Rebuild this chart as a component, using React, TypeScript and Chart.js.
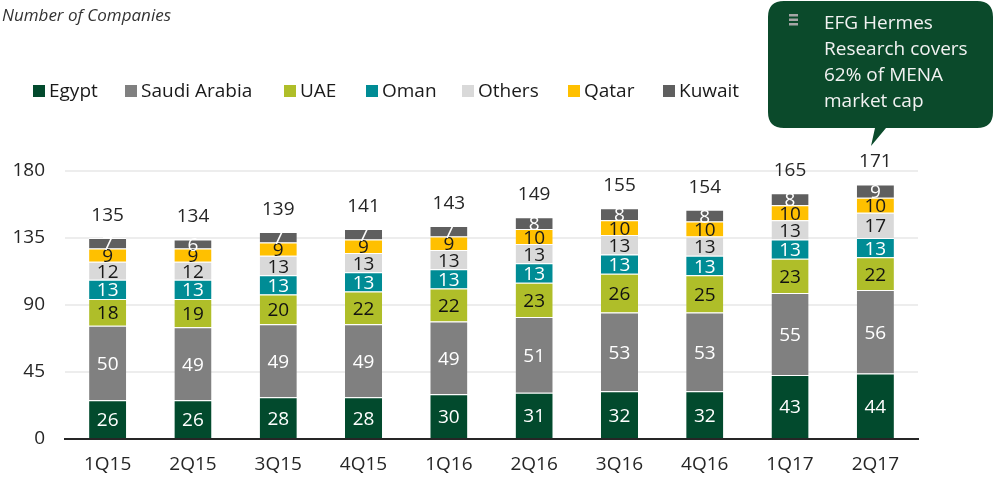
import { useEffect, useRef } from "react";
import { Chart, registerables } from "chart.js";
Chart.register(...registerables);

const categories = ["1Q15", "2Q15", "3Q15", "4Q15", "1Q16", "2Q16", "3Q16", "4Q16", "1Q17", "2Q17"];
const egypt = [26, 26, 28, 28, 30, 31, 32, 32, 43, 44];
const saudiArabia = [50, 49, 49, 49, 49, 51, 53, 53, 55, 56];
const uae = [18, 19, 20, 22, 22, 23, 26, 25, 23, 22];
const oman = [13, 13, 13, 13, 13, 13, 13, 13, 13, 13];
const others = [12, 12, 13, 13, 13, 13, 13, 13, 13, 17];
const qatar = [9, 9, 9, 9, 9, 10, 10, 10, 10, 10];
const kuwait = [7, 6, 7, 7, 7, 8, 8, 8, 8, 9];

const seriesNames = ["Egypt", "Saudi Arabia", "UAE", "Oman", "Others", "Qatar", "Kuwait"];
const seriesData = [egypt, saudiArabia, uae, oman, others, qatar, kuwait];
const seriesColors = ["#024a2d", "#808080", "#afbe29", "#008c95", "#d9d9d9", "#ffc000", "#5f5f5f"];
const labelColors = ["#ffffff", "#ffffff", "#111111", "#ffffff", "#1a1a1a", "#1a1a1a", "#ffffff"];
const legendX = [33, 125, 284, 366, 462, 568, 663];

const FONT = '"Open Sans", sans-serif';

const labelsPlugin = {
  id: "segLabels",
  afterDatasetsDraw(chart: any) {
    const ctx = chart.ctx;
    ctx.save();
    ctx.font = `19px ${FONT}`;
    ctx.textAlign = "center";
    ctx.textBaseline = "alphabetic";
    const n = chart.data.datasets.length;
    chart.data.datasets.forEach((ds: any, i: number) => {
      const meta = chart.getDatasetMeta(i);
      meta.data.forEach((bar: any, j: number) => {
        const p = bar.getProps(["x", "y", "base"], true);
        ctx.fillStyle = labelColors[i];
        ctx.fillText(String(ds.data[j]), p.x, (p.y + p.base) / 2 + 7);
      });
    });
    const lastMeta = chart.getDatasetMeta(n - 1);
    ctx.fillStyle = "#262626";
    lastMeta.data.forEach((bar: any, j: number) => {
      let total = 0;
      chart.data.datasets.forEach((ds: any) => (total += ds.data[j]));
      const p = bar.getProps(["x", "y"], true);
      ctx.fillText(String(total), p.x, p.y - 17);
    });
    ctx.restore();
  },
};

const legendPlugin = {
  id: "customLegend",
  afterDraw(chart: any) {
    const ctx = chart.ctx;
    ctx.save();
    ctx.font = `19px ${FONT}`;
    ctx.textAlign = "left";
    ctx.textBaseline = "alphabetic";
    chart.data.datasets.forEach((ds: any, i: number) => {
      const x = legendX[i];
      ctx.fillStyle = ds.backgroundColor;
      ctx.fillRect(x, 85, 12, 12);
      ctx.fillStyle = "#1a1a1a";
      ctx.fillText(ds.label, x + 16, 97);
    });
    ctx.restore();
  },
};

export default function App() {
  const ref = useRef<HTMLCanvasElement>(null);
  useEffect(() => {
    Chart.defaults.font.family = FONT;
    const chart = new Chart(ref.current!, {
      type: "bar",
      data: {
        labels: categories,
        datasets: seriesNames.map((name, i) => ({
          label: name,
          data: seriesData[i],
          backgroundColor: seriesColors[i],
          borderColor: "rgba(255,255,255,0.85)",
          borderWidth: { top: 1, left: 0, right: 0, bottom: 0 },
          borderSkipped: false,
          categoryPercentage: 1,
          barPercentage: 0.435,
        })),
      },
      options: {
        responsive: false,
        animation: false,
        layout: { padding: { top: 171, right: 77, left: 0, bottom: 0 } },
        plugins: {
          legend: { display: false },
          title: { display: false },
          tooltip: { enabled: false },
        },
        scales: {
          x: {
            stacked: true,
            grid: { display: false, drawTicks: false },
            border: { display: true, color: "#262626", width: 2 },
            ticks: { color: "#262626", font: { size: 19 }, padding: 14 },
            afterFit(s: any) {
              s.height = 41;
            },
          },
          y: {
            stacked: true,
            min: 0,
            max: 180,
            ticks: { stepSize: 45, color: "#262626", font: { size: 19 }, padding: 20 },
            grid: { color: "#ededed", lineWidth: 2, drawTicks: false },
            border: { display: false },
            afterFit(s: any) {
              s.width = 65;
            },
          },
        },
      } as any,
      plugins: [labelsPlugin, legendPlugin],
    });
    return () => chart.destroy();
  }, []);

  return (
    <div
      style={{
        position: "fixed",
        left: 0,
        top: 0,
        width: 995,
        height: 480,
        background: "#fff",
        fontFamily: FONT,
        overflow: "hidden",
      }}
    >
      <canvas
        ref={ref}
        width={995}
        height={480}
        style={{ position: "absolute", left: 0, top: 0, width: 995, height: 480 }}
      />
      <div
        style={{
          position: "absolute",
          left: 2,
          top: 3,
          fontSize: 17,
          fontStyle: "italic",
          color: "#333333",
          lineHeight: "23px",
          whiteSpace: "nowrap",
        }}
      >
        Number of Companies
      </div>
      <svg
        width={995}
        height={480}
        style={{ position: "absolute", left: 0, top: 0, pointerEvents: "none" }}
      >
        <path
          d="M 784 1 H 977 Q 993 1 993 17 V 112 Q 993 128 977 128 H 886 L 871 146 L 875 128 H 784 Q 768 128 768 112 V 17 Q 768 1 784 1 Z"
          fill="#0b4a2b"
        />
        <rect x={789} y={14} width={9} height={2.5} fill="#a6a6a6" />
        <rect x={789} y={18.5} width={9} height={2.5} fill="#a6a6a6" />
        <rect x={789} y={23} width={9} height={2.5} fill="#a6a6a6" />
      </svg>
      <div
        style={{
          position: "absolute",
          left: 824,
          top: 9,
          fontSize: 19,
          lineHeight: "26px",
          color: "#f2f2f2",
          whiteSpace: "nowrap",
        }}
      >
        EFG Hermes
        <br />
        Research covers
        <br />
        62% of MENA
        <br />
        market cap
      </div>
    </div>
  );
}
